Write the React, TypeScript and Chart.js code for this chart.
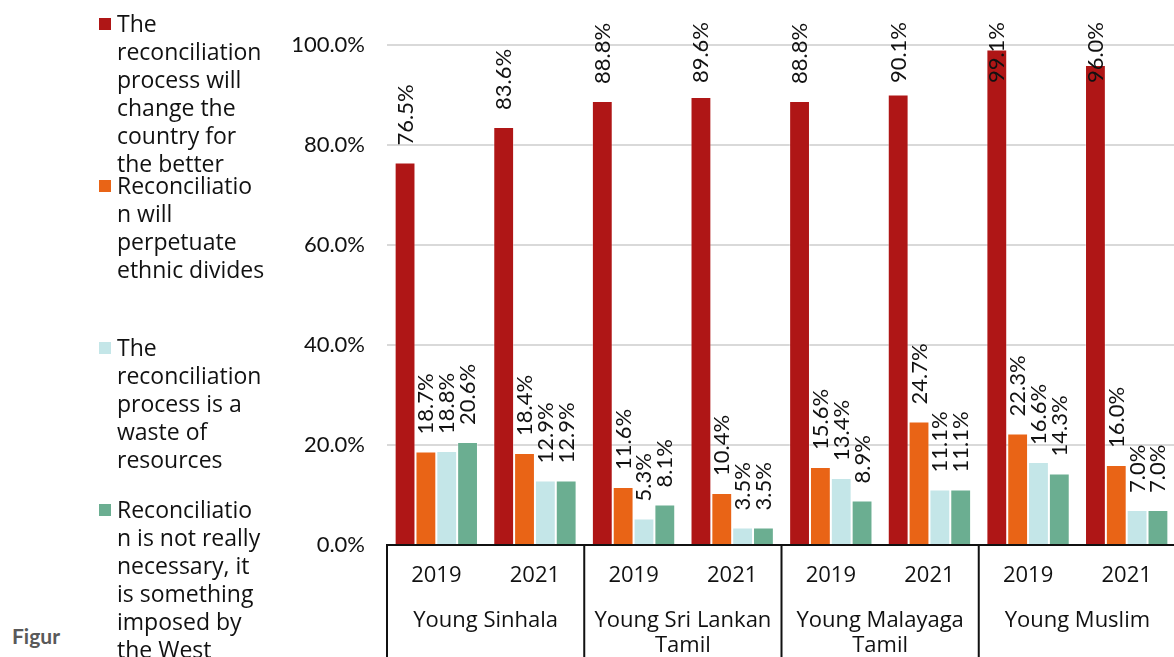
import { useEffect, useRef } from "react";
import { Chart, registerables } from "chart.js";

Chart.register(...registerables);

// Survey groups (two survey years each) and the bottom-axis labels
const groupLines: string[][] = [
  ["Young Sinhala"],
  ["Young Sri Lankan", "Tamil"],
  ["Young Malayaga", "Tamil"],
  ["Young Muslim"],
];
const years = ["2019", "2021"];
const categories = groupLines.flatMap((g) => years.map((y) => `${y} ${g.join(" ")}`));

// Share of respondents agreeing with each statement (%)
const betterCountry = [76.5, 83.6, 88.8, 89.6, 88.8, 90.1, 99.1, 96.0];
const ethnicDivides = [18.7, 18.4, 11.6, 10.4, 15.6, 24.7, 22.3, 16.0];
const wasteOfResources = [18.8, 12.9, 5.3, 3.5, 13.4, 11.1, 16.6, 7.0];
const imposedByWest = [20.6, 12.9, 8.1, 3.5, 8.9, 11.1, 14.3, 7.0];

// Legend text, wrapped the way the legend box shows it
const legendLines: string[][] = [
  ["The", "reconciliation", "process will", "change the", "country for", "the better"],
  ["Reconciliatio", "n will", "perpetuate", "ethnic divides"],
  ["The", "reconciliation", "process is a", "waste of", "resources"],
  ["Reconciliatio", "n is not really", "necessary, it", "is something", "imposed by", "the West"],
];
const seriesNames = [
  "The reconciliation process will change the country for the better",
  "Reconciliation will perpetuate ethnic divides",
  "The reconciliation process is a waste of resources",
  "Reconciliation is not really necessary, it is something imposed by the West",
];
const seriesColors = ["#AF1616", "#E96416", "#C4E6E8", "#6BAE91"];
const seriesValues = [betterCountry, ethnicDivides, wasteOfResources, imposedByWest];

const yTickStep = 20;
const yMax = 100;

const CANVAS_W = 1190;
const CANVAS_H = 657;

const labelFont = '22px Lato, "Open Sans", sans-serif';
const axisFont = '22px "Open Sans", "Noto Sans", sans-serif';

// Vertical value labels above each bar; kept inside the top margin of the canvas
const valueLabels = {
  id: "valueLabels",
  afterDatasetsDraw(chart: Chart) {
    const ctx = chart.ctx;
    ctx.save();
    ctx.font = labelFont;
    ctx.fillStyle = "#111";
    ctx.textAlign = "left";
    ctx.textBaseline = "alphabetic";
    chart.data.datasets.forEach((ds, di) => {
      const meta = chart.getDatasetMeta(di);
      meta.data.forEach((el: any, i) => {
        const v = ds.data[i] as number;
        const text = `${v.toFixed(1)}%`;
        const w = ctx.measureText(text).width;
        const start = Math.max(el.y - 17, 22 + w);
        ctx.save();
        ctx.translate(el.x + 7.5, start);
        ctx.rotate(-Math.PI / 2);
        ctx.fillText(text, 0, 0);
        ctx.restore();
      });
    });
    ctx.restore();
  },
};

// Two-level category axis: years under each bar group, population groups below, boxed by separators
const groupedAxis = {
  id: "groupedAxis",
  afterDraw(chart: Chart) {
    const ctx = chart.ctx;
    const x = chart.scales.x;
    const area = chart.chartArea;
    const catW = (area.right - area.left) / categories.length;
    ctx.save();
    ctx.strokeStyle = "#111";
    ctx.lineWidth = 2;
    ctx.beginPath();
    ctx.moveTo(area.left - 1, area.bottom);
    ctx.lineTo(area.right, area.bottom);
    for (let g = 0; g <= groupLines.length; g++) {
      const bx = area.left + g * years.length * catW;
      ctx.moveTo(bx, area.bottom);
      ctx.lineTo(bx, chart.height);
    }
    ctx.stroke();

    ctx.fillStyle = "#111";
    ctx.font = axisFont;
    ctx.textAlign = "center";
    ctx.textBaseline = "alphabetic";
    categories.forEach((_, i) => {
      ctx.fillText(years[i % years.length], x.getPixelForValue(i), area.bottom + 37);
    });
    groupLines.forEach((lines, g) => {
      const cx =
        (x.getPixelForValue(g * years.length) + x.getPixelForValue(g * years.length + years.length - 1)) / 2;
      lines.forEach((line, li) => {
        ctx.fillText(line, cx, area.bottom + 82 + li * 25);
      });
    });
    ctx.restore();
  },
};

export default function App() {
  const canvasRef = useRef<HTMLCanvasElement | null>(null);

  useEffect(() => {
    if (!canvasRef.current) return;
    const chart = new Chart(canvasRef.current, {
      type: "bar",
      data: {
        labels: categories,
        datasets: seriesValues.map((vals, i) => ({
          label: seriesNames[i],
          data: vals,
          backgroundColor: seriesColors[i],
          borderColor: "rgba(255,255,255,0.35)",
          borderWidth: 1,
          barPercentage: 1,
          categoryPercentage: 0.845,
        })),
      },
      options: {
        responsive: false,
        animation: false,
        devicePixelRatio: 1,
        layout: { padding: { top: 45, left: 0, right: CANVAS_W - 1176, bottom: 0 } },
        plugins: {
          legend: { display: false },
          tooltip: { enabled: false },
          title: { display: false },
        },
        scales: {
          x: {
            type: "category",
            offset: true,
            grid: { display: false },
            border: { display: false },
            ticks: { display: false },
            afterFit: (s: any) => {
              s.height = CANVAS_H - 545;
            },
          },
          y: {
            min: 0,
            max: yMax,
            border: { display: false },
            grid: { color: "#d9d9d9", lineWidth: 2, drawTicks: false },
            ticks: {
              stepSize: yTickStep,
              padding: 22,
              color: "#111",
              font: { family: 'Lato, "Open Sans", sans-serif', size: 22 },
              callback: (v: any) => `${Number(v).toFixed(1)}%`,
            },
            afterFit: (s: any) => {
              s.width = 387;
            },
          },
        },
      },
      plugins: [valueLabels, groupedAxis],
    });
    if ((document as any).fonts?.ready) {
      (document as any).fonts.ready.then(() => chart.update());
    }
    return () => chart.destroy();
  }, []);

  return (
    <div
      style={{
        position: "fixed",
        left: 0,
        top: 0,
        width: 1174,
        height: 657,
        overflow: "hidden",
        background: "#fff",
      }}
    >
      <div
        style={{
          position: "absolute",
          left: 12,
          top: 622,
          font: 'bold 21px Lato, "Open Sans", sans-serif',
          color: "#595959",
          lineHeight: "28px",
        }}
      >
        Figur
      </div>
      <canvas
        ref={canvasRef}
        width={CANVAS_W}
        height={CANVAS_H}
        style={{ position: "absolute", left: 0, top: 0, width: CANVAS_W, height: CANVAS_H }}
      />
      {legendLines.map((lines, i) => (
        <div key={i}>
          <div
            style={{
              position: "absolute",
              left: 99,
              top: 9 + i * 162 + 9,
              width: 12,
              height: 12,
              background: seriesColors[i],
            }}
          />
          <div
            style={{
              position: "absolute",
              left: 117,
              top: 9 + i * 162,
              font: '23px "Open Sans", "Noto Sans", sans-serif',
              lineHeight: "28px",
              color: "#111",
              whiteSpace: "pre",
            }}
          >
            {lines.join("\n")}
          </div>
        </div>
      ))}
    </div>
  );
}
